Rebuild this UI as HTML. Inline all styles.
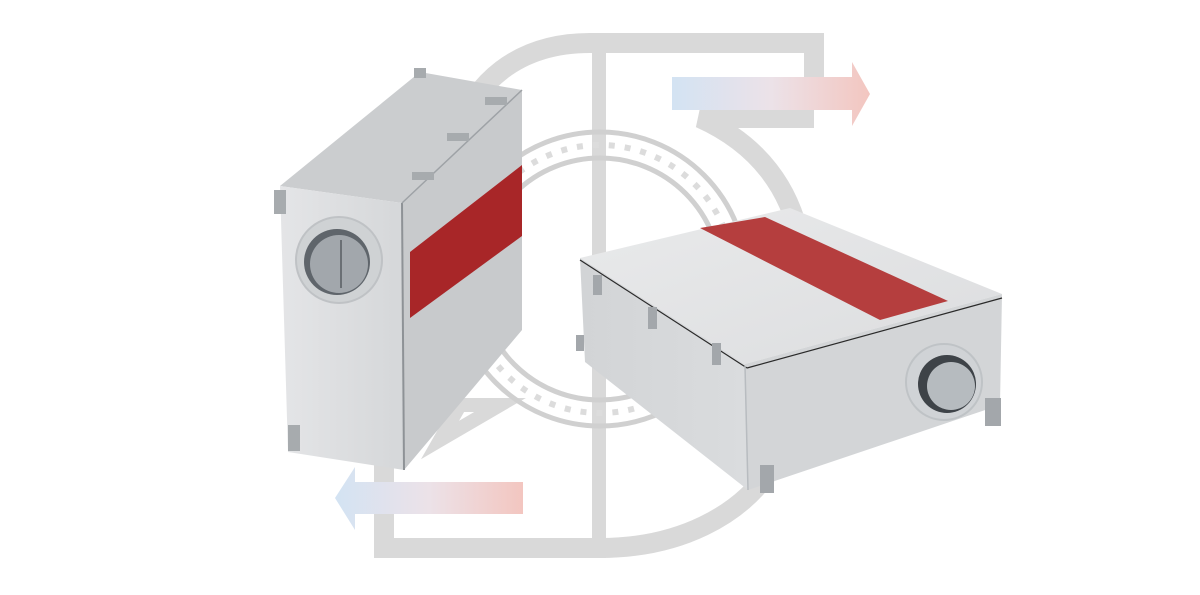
<!DOCTYPE html>
<html><head><meta charset="utf-8"><style>
html,body{margin:0;padding:0;background:#fff;}
svg{display:block}
</style></head><body>
<svg width="1200" height="595" viewBox="0 0 1200 595" xmlns="http://www.w3.org/2000/svg">
<defs>
<linearGradient id="ar1" x1="0" x2="1"><stop offset="0" stop-color="#d3e3f3"/><stop offset="0.5" stop-color="#ece2e8"/><stop offset="1" stop-color="#f3c6c0"/></linearGradient>
<linearGradient id="ar2" x1="1" x2="0"><stop offset="0" stop-color="#f3c6c0"/><stop offset="0.5" stop-color="#ece2e8"/><stop offset="1" stop-color="#d3e3f3"/></linearGradient>
<linearGradient id="lf" x1="0" x2="1"><stop offset="0" stop-color="#e4e5e7"/><stop offset="1" stop-color="#d5d7d9"/></linearGradient>
<linearGradient id="rf" x1="0" x2="1"><stop offset="0" stop-color="#d2d4d6"/><stop offset="1" stop-color="#dadcde"/></linearGradient>
<linearGradient id="rt" x1="0" x2="1" y1="0" y2="1"><stop offset="0" stop-color="#e9eaeb"/><stop offset="1" stop-color="#dcdddf"/></linearGradient>
</defs>
<g fill="none" stroke="#d9d9d9" stroke-width="20">
<path d="M814 110 V43 H590 C520 43 470 80 452 150"/>
<path d="M814 118 H700 C760 145 790 190 800 240"/>
<line x1="599" y1="43" x2="599" y2="558" stroke-width="14"/>
<path d="M384 430 V548 H600 C680 548 740 515 770 470"/>
<path d="M440 440 L500 405 L460 405 Z" stroke-width="14"/>
</g>
<circle cx="600" cy="279" r="147" fill="none" stroke="#d0d0d0" stroke-width="5"/>
<circle cx="600" cy="279" r="121" fill="none" stroke="#d0d0d0" stroke-width="5"/>
<circle cx="600" cy="279" r="134" fill="none" stroke="#dcdcdc" stroke-width="6" stroke-dasharray="6 10"/>
<path d="M672 77 H852 V62 L870 94 L852 126 V110 H672 Z" fill="url(#ar1)"/>
<path d="M523 482 H355 V467 L335 498 L355 530 V514 H523 Z" fill="url(#ar2)"/>
<polygon points="280,186 420,72 522,90 402,203" fill="#cbcdcf"/>
<polygon points="280,186 402,203 404,470 288,452" fill="url(#lf)"/>
<polygon points="402,203 522,90 522,330 404,470" fill="#c8cacc"/>
<line x1="402" y1="203" x2="404" y2="470" stroke="#8e9296" stroke-width="2"/>
<line x1="402" y1="203" x2="522" y2="90" stroke="#9ea2a6" stroke-width="1.5"/>
<polygon points="410,252 522,165 522,236 410,318" fill="#a82628"/>
<circle cx="339" cy="260" r="43" fill="#cfd2d4" stroke="#bfc2c5" stroke-width="2"/>
<circle cx="337" cy="262" r="33" fill="#5f656b"/>
<circle cx="339" cy="264" r="29" fill="#a2a7ac"/>
<line x1="341" y1="240" x2="341" y2="288" stroke="#6a6f74" stroke-width="2"/>
<g fill="#a7abae">
<rect x="274" y="190" width="12" height="24"/><rect x="288" y="425" width="12" height="26"/>
<rect x="412" y="172" width="22" height="8"/><rect x="447" y="133" width="22" height="8"/><rect x="485" y="97" width="22" height="8"/><rect x="414" y="68" width="12" height="10"/>
</g>
<polygon points="580,258 790,208 1002,294 745,364" fill="url(#rt)"/>
<polygon points="580,258 745,364 748,490 585,362" fill="url(#rf)"/>
<polygon points="745,364 1002,294 1000,405 748,490" fill="#d3d5d7"/>
<line x1="580" y1="260" x2="747" y2="368" stroke="#2a2a2a" stroke-width="1.2"/>
<line x1="747" y1="368" x2="1002" y2="298" stroke="#2a2a2a" stroke-width="1.2"/>
<line x1="745" y1="366" x2="748" y2="490" stroke="#b8bcc0" stroke-width="1.5"/>
<polygon points="700,228 765,217 948,301 880,320" fill="#b53e3e"/>
<circle cx="944" cy="382" r="38" fill="#d0d3d6" stroke="#bfc3c6" stroke-width="2"/>
<circle cx="947" cy="384" r="29" fill="#3e4348"/>
<circle cx="951" cy="386" r="24" fill="#b6bbbf"/>
<g fill="#a3a7ab">
<rect x="593" y="275" width="9" height="20"/><rect x="648" y="307" width="9" height="22"/><rect x="712" y="343" width="9" height="22"/>
<rect x="760" y="465" width="14" height="28"/><rect x="985" y="398" width="16" height="28"/><rect x="576" y="335" width="8" height="16"/>
</g>
</svg>
</body></html>
